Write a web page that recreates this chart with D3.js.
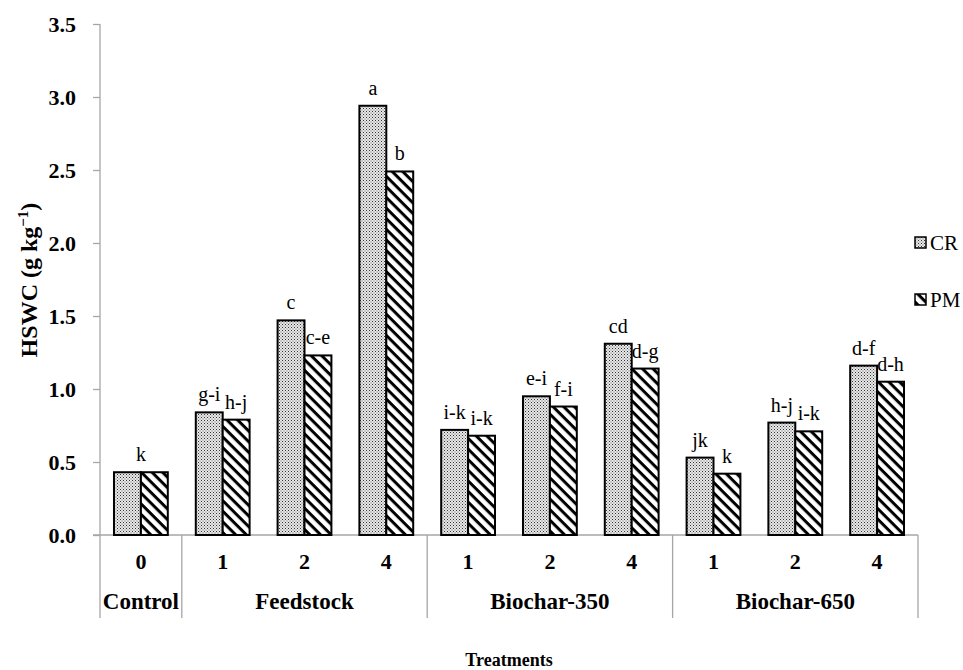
<!DOCTYPE html>
<html>
<head>
<meta charset="utf-8">
<script src="https://cdn.jsdelivr.net/npm/d3@7"></script>
<style>
  body { margin: 0; background: #fff; }
  svg { display: block; }
  svg text { font-family: "Liberation Serif", "Times New Roman", serif; }
</style>
</head>
<body>
<svg id="chart" width="963" height="670"></svg>
<script>
// ---- data ----
const categories = ["0", "1", "2", "4", "1", "2", "4", "1", "2", "4"];
const groups = ["Control", "Feedstock", "Biochar-350", "Biochar-650"];
const groupSizes = [1, 3, 3, 3];
const series = ["CR", "PM"];
const valuesCR = [0.43, 0.84, 1.47, 2.94, 0.72, 0.95, 1.31, 0.53, 0.77, 1.16];
const valuesPM = [0.43, 0.79, 1.23, 2.49, 0.68, 0.88, 1.14, 0.42, 0.71, 1.05];
const lettersCR = ["k", "g-i", "c", "a", "i-k", "e-i", "cd", "jk", "h-j", "d-f"];
const lettersPM = ["", "h-j", "c-e", "b", "i-k", "f-i", "d-g", "k", "i-k", "d-h"];
const yTicks = [0, 0.5, 1.0, 1.5, 2.0, 2.5, 3.0, 3.5];

// ---- layout ----
const FONT = "Liberation Serif";
const svg = d3.select("#chart");
const mLeft = 100, mRight = 918, mTop = 24, mBottom = 535, tableBottom = 618;
const axisColor = "#a6a6a6";

const defs = svg.append("defs");
// stipple pattern for CR
const pCR = defs.append("pattern").attr("id", "patCR").attr("patternUnits", "userSpaceOnUse")
  .attr("width", 3).attr("height", 3);
pCR.append("rect").attr("width", 3).attr("height", 3).attr("fill", "#e8e8e8");
pCR.append("rect").attr("x", 0).attr("y", 0).attr("width", 1).attr("height", 1).attr("fill", "#333");
pCR.append("rect").attr("x", 1.5).attr("y", 1.5).attr("width", 1).attr("height", 1).attr("fill", "#666");
// diagonal stripes for PM ("\" direction)
const pPM = defs.append("pattern").attr("id", "patPM").attr("patternUnits", "userSpaceOnUse")
  .attr("width", 7.5).attr("height", 7.5).attr("patternTransform", "rotate(45)");
pPM.append("rect").attr("width", 7.5).attr("height", 7.5).attr("fill", "#fff");
pPM.append("rect").attr("x", 0).attr("y", 0).attr("width", 7.5).attr("height", 3).attr("fill", "#000");

const y = d3.scaleLinear().domain([0, 3.5]).range([mBottom, mTop]);
const x0 = d3.scaleBand().domain(d3.range(categories.length)).range([mLeft, mRight]).padding(0);
const x1 = d3.scaleBand().domain(series).range([0, x0.bandwidth()]).paddingInner(0).paddingOuter(0.52);

// y axis
const yAxis = svg.append("g").attr("transform", `translate(${mLeft},0)`)
  .call(d3.axisLeft(y).tickValues(yTicks).tickFormat(d3.format(".1f")).tickSize(7).tickPadding(17));
yAxis.attr("font-family", FONT);
yAxis.select(".domain").remove();
yAxis.selectAll(".tick line").attr("stroke", axisColor).attr("stroke-width", 1.3);
yAxis.selectAll(".tick text").attr("font-family", FONT).attr("font-weight", "bold")
  .attr("font-size", 22).attr("fill", "#000");
svg.append("line").attr("x1", mLeft).attr("x2", mLeft).attr("y1", y(3.5)).attr("y2", tableBottom)
  .attr("stroke", axisColor).attr("stroke-width", 1.3);
// x axis line
svg.append("line").attr("x1", mLeft - 7).attr("x2", mRight).attr("y1", mBottom).attr("y2", mBottom)
  .attr("stroke", axisColor).attr("stroke-width", 1.3);

// bars
const data = [];
categories.forEach((c, i) => {
  data.push({ i, s: "CR", v: valuesCR[i], lab: lettersCR[i] });
  data.push({ i, s: "PM", v: valuesPM[i], lab: lettersPM[i] });
});
svg.append("g").selectAll("rect").data(data).join("rect")
  .attr("x", d => x0(d.i) + x1(d.s))
  .attr("y", d => y(d.v))
  .attr("width", x1.bandwidth())
  .attr("height", d => y(0) - y(d.v))
  .attr("fill", d => d.s === "CR" ? "url(#patCR)" : "url(#patPM)")
  .attr("stroke", "#000").attr("stroke-width", 2);

// letters
svg.append("g").selectAll("text").data(data.filter(d => d.lab !== "")).join("text")
  .attr("x", d => {
    const other = data.find(o => o.i === d.i && o.s !== d.s);
    if (other && other.lab === "") return x0(d.i) + x0.bandwidth() / 2;
    return x0(d.i) + x1(d.s) + x1.bandwidth() / 2;
  })
  .attr("y", d => y(d.v) - 11)
  .attr("text-anchor", "middle")
  .attr("font-family", FONT).attr("font-size", 20).attr("fill", "#000")
  .text(d => d.lab);

// category labels
svg.append("g").selectAll("text").data(categories).join("text")
  .attr("x", (d, i) => x0(i) + x0.bandwidth() / 2)
  .attr("y", 569)
  .attr("text-anchor", "middle").attr("font-family", FONT).attr("font-weight", "bold").attr("font-size", 22)
  .text(d => d);

// group labels & dividers
let start = 0;
const bounds = [];
groupSizes.forEach((n, gi) => {
  const xa = x0(start), xb = start + n < categories.length ? x0(start + n) : mRight;
  bounds.push(xb);
  svg.append("text").attr("x", (xa + xb) / 2).attr("y", 609)
    .attr("text-anchor", "middle").attr("font-family", FONT).attr("font-weight", "bold").attr("font-size", 23)
    .text(groups[gi]);
  start += n;
});
svg.append("g").selectAll("line").data(bounds).join("line")
  .attr("x1", d => d).attr("x2", d => d).attr("y1", mBottom).attr("y2", tableBottom)
  .attr("stroke", axisColor).attr("stroke-width", 1.3);

// axis titles
const yt = svg.append("text").attr("transform", "translate(37,280) rotate(-90)")
  .attr("text-anchor", "middle").attr("font-family", FONT).attr("font-weight", "bold").attr("font-size", 24);
yt.append("tspan").text("HSWC (g kg");
yt.append("tspan").attr("dy", -9).attr("font-size", 15).text("\u22121");
yt.append("tspan").attr("dy", 9).text(")");
svg.append("text").attr("x", 509).attr("y", 666).attr("text-anchor", "middle")
  .attr("font-family", FONT).attr("font-weight", "bold").attr("font-size", 18).text("Treatments");

// legend
const legY = [243, 300];
series.forEach((s, k) => {
  svg.append("rect").attr("x", 915).attr("y", legY[k] - 6).attr("width", 11).attr("height", 11)
    .attr("fill", s === "CR" ? "url(#patCR)" : "url(#patPM)").attr("stroke", "#000").attr("stroke-width", 1.5);
  svg.append("text").attr("x", 930).attr("y", legY[k] + 7).attr("font-family", FONT).attr("font-size", 21).text(s);
});
</script>
</body>
</html>
